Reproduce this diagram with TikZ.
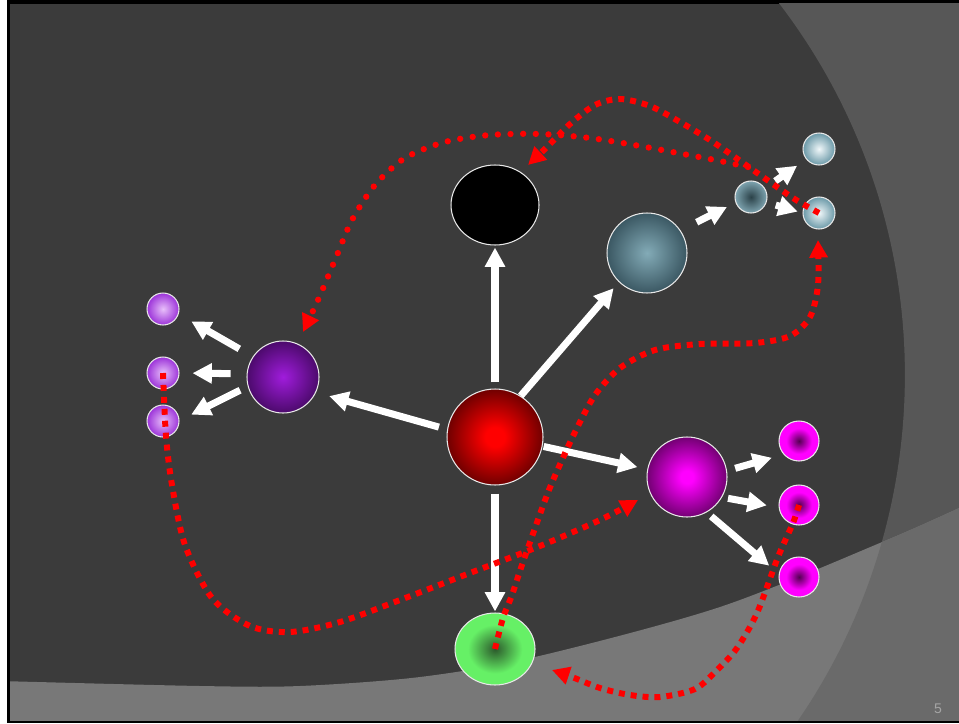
\documentclass[tikz,border=0pt]{standalone}
\usepackage{fontspec}
\setsansfont{Liberation Sans}
\usetikzlibrary{arrows.meta,shapes.geometric}

\definecolor{bgdark}{HTML}{3B3B3B}
\definecolor{bgright}{HTML}{575757}
\definecolor{bgbottom}{HTML}{787878}
\definecolor{bgboth}{HTML}{6A6A6A}
\definecolor{rim}{HTML}{E8E8E8}
\definecolor{pagenum}{HTML}{A5A5A5}
\definecolor{redin}{HTML}{FF0000}
\definecolor{redout}{HTML}{700000}
\definecolor{purin}{HTML}{A01CDC}
\definecolor{purout}{HTML}{4C0A6C}
\definecolor{pin}{HTML}{E8BFFA}
\definecolor{pout}{HTML}{9C33D9}
\definecolor{tin}{HTML}{83ABB7}
\definecolor{tout}{HTML}{3B5863}
\definecolor{tdin}{HTML}{2B4249}
\definecolor{tdout}{HTML}{7EA4B0}
\definecolor{tlin}{HTML}{F0F7F9}
\definecolor{tlout}{HTML}{6B99A8}
\definecolor{magin}{HTML}{FF00FF}
\definecolor{magout}{HTML}{730073}
\definecolor{msin}{HTML}{540052}
\definecolor{msout}{HTML}{FF00FF}
\definecolor{gin}{HTML}{2C5A2C}
\definecolor{gout}{HTML}{66F066}

\pgfdeclareradialshading{redsh}{\pgfpoint{0bp}{0bp}}{color(0bp)=(redin); color(5bp)=(redin); color(25bp)=(redout); color(50bp)=(redout)}
\pgfdeclareradialshading{magsh}{\pgfpoint{0bp}{0bp}}{color(0bp)=(magin); color(4bp)=(magin); color(25bp)=(magout); color(50bp)=(magout)}
\pgfdeclareradialshading{msh}{\pgfpoint{0bp}{0bp}}{color(0bp)=(msin); color(16bp)=(msout); color(25bp)=(msout); color(50bp)=(msout)}
\pgfdeclareradialshading{gsh}{\pgfpoint{0bp}{0bp}}{color(0bp)=(gin); color(17bp)=(gout); color(25bp)=(gout); color(50bp)=(gout)}

\tikzset{
  ball/.style={circle, inner sep=0pt, draw=rim, line width=0.6pt},
  oval/.style={ellipse, inner sep=0pt, draw=rim, line width=0.6pt},
  warrow/.style={draw=white, line width=4pt, -{Triangle[length=11pt,width=11pt]}},
  rsq/.style={draw=red, line width=3.4pt, dash pattern=on 3.4pt off 3.4pt, -{Triangle[length=10pt,width=10pt,fill=red]}},
  rdot/.style={draw=red, line width=3.6pt, line cap=round, dash pattern=on 0pt off 7.2pt, -{Triangle[length=10pt,width=10pt,fill=red]}},
}

\begin{document}
\begin{tikzpicture}[x=0.02cm,y=-0.02cm]
\useasboundingbox (0,0) rectangle (959,723);
% background
\fill[white] (0,0) rectangle (959,723);
\fill[black] (7,0) rectangle (959,723);
\fill[bgdark] (10,4) rectangle (959,720);
\begin{scope}
  \clip (10,4) rectangle (959,720);
  \fill[bgright, even odd rule] (0,0) rectangle (980,740) (293,375) circle[radius=12.24cm];
  \fill[bgbottom] plot[smooth] coordinates {(0,681) (200,686) (300,686) (420,677) (535,657) (720,607) (887,540) (970,503)} -- (970,740) -- (0,740) -- cycle;
  \clip plot[smooth] coordinates {(0,681) (200,686) (300,686) (420,677) (535,657) (720,607) (887,540) (970,503)} -- (970,740) -- (0,740) -- cycle;
  \fill[bgboth, even odd rule] (0,0) rectangle (980,740) (293,375) circle[radius=12.24cm];
\end{scope}

% nodes
\node[ball, shade, shading=redsh, minimum size=1.92cm] (red) at (495,437) {};
\node[oval, fill=black, minimum width=1.76cm, minimum height=1.6cm] (black) at (495,205) {};
\node[oval, shade, shading=gsh, minimum width=1.6cm, minimum height=1.44cm] (green) at (495,649) {};
\node[ball, inner color=tin, outer color=tout, minimum size=1.6cm] (teal) at (647,253) {};
\node[ball, inner color=tdin, outer color=tdout, minimum size=0.64cm] (tdark) at (751,197) {};
\node[ball, inner color=tlin, outer color=tlout, minimum size=0.64cm] (tl1) at (819,149) {};
\node[ball, inner color=tlin, outer color=tlout, minimum size=0.64cm] (tl2) at (819,213) {};
\node[ball, inner color=purin, outer color=purout, minimum size=1.44cm] (purple) at (283,377) {};
\node[ball, inner color=pin, outer color=pout, minimum size=0.64cm] (p1) at (163,309) {};
\node[ball, inner color=pin, outer color=pout, minimum size=0.64cm] (p2) at (163,373) {};
\node[ball, inner color=pin, outer color=pout, minimum size=0.64cm] (p3) at (163,421) {};
\node[ball, shade, shading=magsh, minimum size=1.6cm] (mag) at (687,477) {};
\node[ball, shade, shading=msh, minimum size=0.8cm] (m1) at (799,441) {};
\node[ball, shade, shading=msh, minimum size=0.8cm] (m2) at (799,505) {};
\node[ball, shade, shading=msh, minimum size=0.8cm] (m3) at (799,577) {};

% white arrows
\draw[warrow, shorten <=0.12cm, shorten >=0.04cm] (red.north) -- (black.south);
\draw[warrow, shorten >=0.16cm] (red.58.6) -- (teal.226.7);
\draw[warrow, shorten <=0.17cm, shorten >=0.27cm] (red.171.9) -- (purple.335);
\draw[warrow, shorten <=0.02cm, shorten >=0.2cm] (red.349.4) -- (mag.169.6);
\draw[warrow, shorten <=0.16cm, shorten >=0.02cm] (red.south) -- (green.north);
\draw[warrow, shorten <=0.36cm, shorten >=0.19cm] (teal.34.5) -- (tdark.200.6);
\draw[warrow, shorten <=0.25cm, shorten >=0.22cm] (tdark.32) -- (tl1.219);
\draw[warrow, shorten <=0.19cm, shorten >=0.1cm] (tdark.341.6) -- (tl2.180);
\draw[warrow, shorten <=0.31cm, shorten >=0.29cm] (purple.146.9) -- (p1.342.8);
\draw[warrow, shorten <=0.32cm, shorten >=0.26cm] (purple.175.6) -- (p2.0);
\draw[warrow, shorten <=0.17cm, shorten >=0.26cm] (purple.195.6) -- (p3.2);
\draw[warrow, shorten <=0.17cm, shorten >=0.24cm] (mag.9.5) -- (m1.221.2);
\draw[warrow, shorten <=0.12cm, shorten >=0.24cm] (mag.330.1) -- (m2.187.1);
\draw[warrow, shorten <=0.12cm, shorten >=0.25cm] (mag.299.9) -- (m3.171.1);

% red dotted curves
\coordinate (rstart) at (748,167);
\draw[rdot] plot[smooth] coordinates {(rstart) (720,161) (683,154) (640,146) (590,138) (540,134) (490,135) (445,142) (405,158) (375,185) (352,220) (335,260) (318,300) (303,332)};
\draw[rsq] plot[smooth] coordinates {(tl2.center) (793,198) (753,170) (713,142) (680,122) (650,106) (620,99) (595,105) (570,124) (548,146) (528,165)};
\draw[rsq] plot[smooth] coordinates {(p2.center) (166,436) (172,485) (185,545) (212,598) (250,626) (290,632) (340,622) (400,600) (470,573) (540,546) (600,520) (638,500)};
\draw[rsq] plot[smooth] coordinates {(green.center) (503,618) (512,595) (523,562) (547,495) (562,460) (577,428) (595,395) (620,368) (655,350) (700,344) (755,343) (790,336) (810,317) (818,285) (818,240)};
\draw[rsq] plot[smooth] coordinates {(m2.center) (793,523) (778,557) (757,613) (737,648) (717,670) (695,689) (660,697) (630,695) (600,688) (572,677) (552,670)};

% page number
\node[text=pagenum, font=\sffamily\fontsize{8}{9}\selectfont] (pg) at (938,709) {5};
\end{tikzpicture}
\end{document}
